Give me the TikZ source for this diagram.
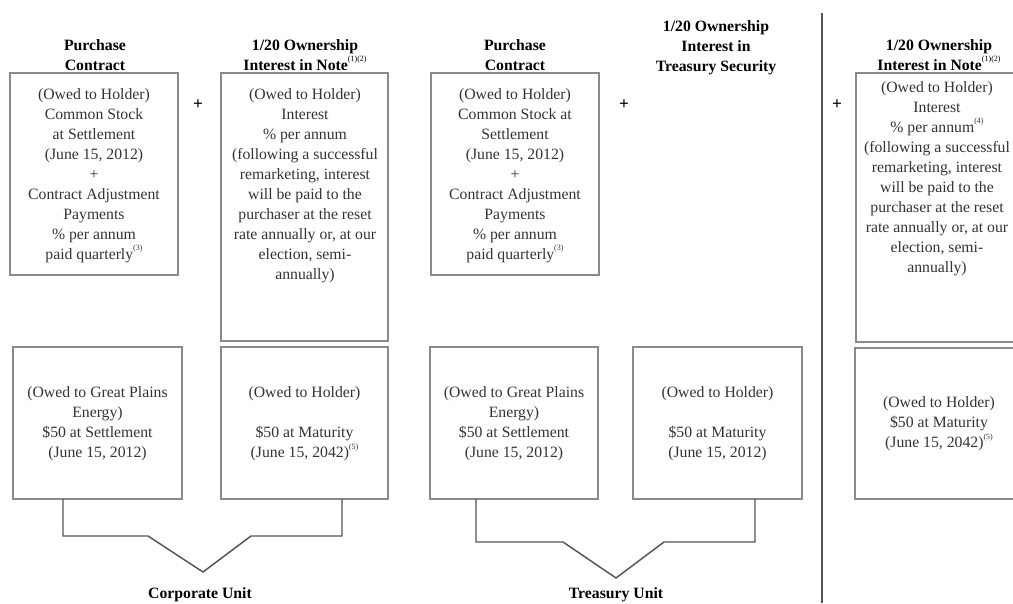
\documentclass[tikz,border=0pt]{standalone}
\usepackage{fontspec}
\setmainfont{Liberation Serif}
\usetikzlibrary{calc}
\definecolor{boxc}{HTML}{8A8A8A}
\definecolor{linec}{HTML}{555555}
\definecolor{txtc}{HTML}{333333}
\newcommand\fnm[1]{\raisebox{0.55em}{\mdseries\fontsize{6}{6}\selectfont(#1)}}
\newcommand\mkbox[5]{\node[box,minimum width=#4*0.75pt,minimum height=#5*0.75pt] (#1) at (#2,#3) {};}
\begin{document}
\begin{tikzpicture}[x=0.75pt,y=-0.75pt,
  box/.style={draw=boxc,line width=1.1pt,inner sep=0pt,outer sep=0pt},
  body/.style={align=center,inner sep=0pt,text=txtc,font=\fontsize{11.8}{15}\selectfont},
  head/.style={align=center,inner sep=0pt,text=black,font=\bfseries\fontsize{11.8}{15}\selectfont},
  plus/.style={inner sep=0pt,text=black,font=\bfseries\fontsize{13}{13}\selectfont},
  brk/.style={draw=linec,line width=1.1pt},
  sepline/.style={draw=linec,line width=1.5pt}]
\useasboundingbox (0,0) rectangle (1013,603);

% headers
\node[head,anchor=north] (hA) at (95,39) {Purchase\\Contract};
\node[head,anchor=north] (hB) at (305,39) {1/20 Ownership\\Interest in Note\fnm{1)(2}};
\node[head,anchor=north] (hC) at (515,39) {Purchase\\Contract};
\node[head,anchor=north] (hT) at (716,20) {1/20 Ownership\\Interest in\\Treasury Security};
\node[head,anchor=north] (hE) at (939,39) {1/20 Ownership\\Interest in Note\fnm{1)(2}};

% top boxes
\mkbox{A}{94}{174}{168}{202}
\mkbox{B}{304.5}{207}{167}{268}
\mkbox{C}{515}{174}{168}{202}
\mkbox{E}{939.5}{207.5}{167}{269}

\node[body,anchor=north] (tA) at (94,88) {(Owed to Holder)\\Common Stock\\at Settlement\\(June 15, 2012)\\+\\Contract Adjustment\\Payments\\\% per annum\\paid quarterly\fnm{3}};
\node[body,anchor=north] (tB) at (305,88) {(Owed to Holder)\\Interest\\\% per annum\\(following a successful\\remarketing, interest\\will be paid to the\\purchaser at the reset\\rate annually or, at our\\election, semi-\\annually)};
\node[body,anchor=north] (tC) at (515,88) {(Owed to Holder)\\Common Stock at\\Settlement\\(June 15, 2012)\\+\\Contract Adjustment\\Payments\\\% per annum\\paid quarterly\fnm{3}};
\node[body,anchor=north] (tE) at (937,81) {(Owed to Holder)\\Interest\\\% per annum\fnm{4}\\(following a successful\\remarketing, interest\\will be paid to the\\purchaser at the reset\\rate annually or, at our\\election, semi-\\annually)};

% plus signs
\node[plus] (p1) at (198,105) {+};
\node[plus] (p2) at (624,105) {+};
\node[plus] (p3) at (837,105) {+};

% bottom boxes
\mkbox{D1}{97.5}{423}{169}{152}
\mkbox{D2}{304.5}{423}{167}{152}
\mkbox{D3}{514}{423}{168}{152}
\mkbox{D4}{717.5}{423}{169}{152}
\mkbox{D5}{939}{423.5}{168}{151}

\node[body] (tD1) at (97.5,424) {(Owed to Great Plains\\Energy)\\\$50 at Settlement\\(June 15, 2012)};
\node[body] (tD2) at (304.5,424) {(Owed to Holder)\\~\\\$50 at Maturity\\(June 15, 2042)\fnm{5}};
\node[body] (tD3) at (514,424) {(Owed to Great Plains\\Energy)\\\$50 at Settlement\\(June 15, 2012)};
\node[body] (tD4) at (717.5,424) {(Owed to Holder)\\~\\\$50 at Maturity\\(June 15, 2012)};
\node[body] (tD5) at (939,424) {(Owed to Holder)\\\$50 at Maturity\\(June 15, 2042)\fnm{5}};

% separator
\coordinate (vt) at (822,13);
\coordinate (vb) at (822,603);
\draw[sepline] (vt) -- (vb);

% unit labels and brackets
\node[head] (cu) at (200,595) {Corporate Unit};
\node[head] (tu) at (616,595) {Treasury Unit};
\coordinate (ctip) at (203,572);
\coordinate (ttip) at (616,578);

\draw[brk] ($(D1.south west)+(50,0)$) -- ++(0,37) -- ++(85,0) -- (ctip)
  -- ++(48,-36) -- ++(91,0) -- ($(D2.south east)+(-46,0)$);
\draw[brk] ($(D3.south west)+(46,0)$) -- ++(0,43) -- ++(87,0) -- (ttip)
  -- ++(48,-36) -- ++(91,0) -- ($(D4.south east)+(-47,0)$);
\end{tikzpicture}
\end{document}
